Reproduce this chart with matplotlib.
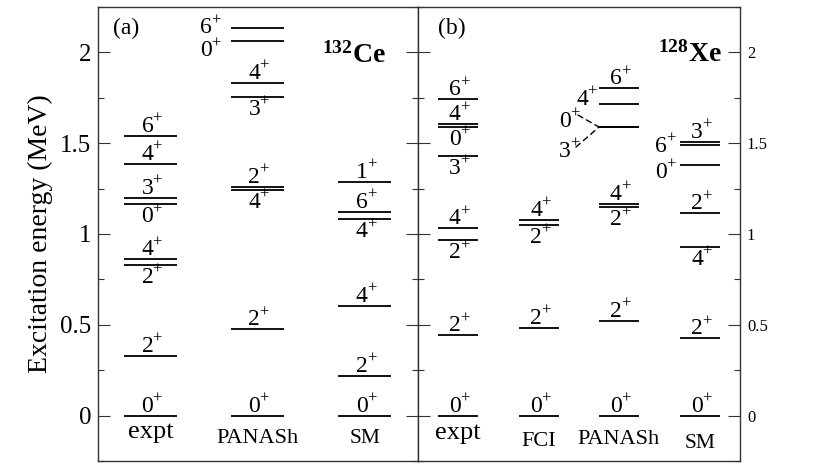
import matplotlib
matplotlib.use("Agg")
import matplotlib.pyplot as plt
from matplotlib.ticker import MultipleLocator, FuncFormatter

plt.rcParams['font.family'] = ['Liberation Serif', 'DejaVu Serif']
plt.rcParams['mathtext.fontset'] = 'custom'
plt.rcParams['mathtext.rm'] = 'Liberation Serif'
plt.rcParams['mathtext.it'] = 'Liberation Serif:italic'
plt.rcParams['mathtext.bf'] = 'Liberation Serif:bold'

# ---------------- data (MeV) ----------------
ce_expt_E = [0.0, 0.328, 0.829, 0.860, 1.163, 1.199, 1.385, 1.541]
ce_expt_J = ['0', '2', '2', '4', '0', '3', '4', '6']
ce_pan_E = [0.0, 0.476, 1.242, 1.260, 1.756, 1.833, 2.061, 2.135]
ce_pan_J = ['0', '2', '4', '2', '3', '4', '0', '6']
ce_sm_E = [0.0, 0.219, 0.603, 1.080, 1.121, 1.286]
ce_sm_J = ['0', '2', '4', '4', '6', '1']

xe_expt_E = [0.0, 0.443, 0.966, 1.031, 1.431, 1.589, 1.604, 1.741]
xe_expt_J = ['0', '2', '2', '4', '3', '0', '4', '6']
xe_fci_E = [0.0, 0.483, 1.049, 1.077]
xe_fci_J = ['0', '2', '2', '4']
xe_pan_E = [0.0, 0.522, 1.146, 1.165, 1.589, 1.589, 1.714, 1.802]
xe_pan_J = ['0', '2', '2', '4', '0', '3', '4', '6']
xe_sm_E = [0.0, 0.425, 0.930, 1.113, 1.381, 1.490, 1.508]
xe_sm_J = ['0', '2', '4', '2', '0', '6', '3']

ce_columns = ['expt', 'PANASh', 'SM']
xe_columns = ['expt', 'FCI', 'PANASh', 'SM']
y_ticks = [0, 0.5, 1, 1.5, 2]

# ---------------- layout (label placement) ----------------
# 'a' above, 'b' below, tuple -> left of line: (digit right dx px, baseline dy px)
ce_expt_P = ['a', 'a', 'b', 'a', 'b', 'a', 'a', 'a']
ce_pan_P = ['a', 'a', 'b', 'a', 'b', 'a', (-19, -15), (-19, -5.5)]
ce_sm_P = ['a', 'a', 'a', 'b', 'a', 'a']
xe_expt_P = ['a', 'a', 'b', 'a', 'b', 'b', 'a', 'a']
xe_fci_P = ['a', 'a', 'b', 'a']
xe_pan_P = ['a', 'a', 'b', 'a', (-28, 0), (-28, -30), (-11, -0.5), 'a']
xe_sm_P = ['a', 'a', 'b', 'a', (-13, -13), (-13, -7), 'a']

ce_centers = [0.164, 0.498, 0.834]
ce_half = 0.083
xe_centers = [0.124, 0.376, 0.624, 0.876]
xe_half = 0.062

DIG = 17
PLUS = 12
fig = plt.figure(figsize=(8.37, 4.68), dpi=100)
ax1 = fig.add_axes([98 / 837, 7 / 468, 320 / 837, 454 / 468])
ax2 = fig.add_axes([418 / 837, 7 / 468, 322 / 837, 454 / 468])


def spin_label(ax, j, xy, off, ha, va):
    t = ax.annotate(j, xy=xy, xytext=off, textcoords='offset pixels',
                    ha=ha, va=va, fontsize=DIG)
    ax.annotate('+', xy=(1, 1), xycoords=t, xytext=(-1, -7),
                textcoords='offset pixels', ha='left', va='baseline', fontsize=PLUS)


def draw_column(ax, xc, half, E, J, P):
    xl, xr = xc - half, xc + half
    for e, j, p in zip(E, J, P):
        ax.plot([xl, xr], [e, e], color='black', lw=1.3, solid_capstyle='butt')
        if p == 'a':
            spin_label(ax, j, (xc, e), (-3, 4), 'center', 'baseline')
        elif p == 'b':
            spin_label(ax, j, (xc, e), (-3, -2), 'center', 'top')
        else:
            spin_label(ax, j, (xl, e), p, 'right', 'baseline')


for xc, E, J, P in zip(ce_centers, [ce_expt_E, ce_pan_E, ce_sm_E],
                       [ce_expt_J, ce_pan_J, ce_sm_J], [ce_expt_P, ce_pan_P, ce_sm_P]):
    draw_column(ax1, xc, ce_half, E, J, P)
for xc, E, J, P in zip(xe_centers, [xe_expt_E, xe_fci_E, xe_pan_E, xe_sm_E],
                       [xe_expt_J, xe_fci_J, xe_pan_J, xe_sm_J],
                       [xe_expt_P, xe_fci_P, xe_pan_P, xe_sm_P]):
    draw_column(ax2, xc, xe_half, E, J, P)

# dashed connectors for degenerate PANASh 0+/3+ in 128Xe
xl = xe_centers[2] - xe_half
for off in [(-21, 12), (-23, -20)]:
    ax2.annotate('', xy=(xl, xe_pan_E[4]), xytext=off, textcoords='offset pixels',
                 arrowprops=dict(arrowstyle='-', linestyle=(0, (4, 3)), lw=1.0,
                                 color='black', shrinkA=0, shrinkB=0))

# column names
ce_name_dy = [-22, -27, -27]
ce_name_fs = [19, 16, 15.5]
for xc, name, dy, fs in zip(ce_centers, ce_columns, ce_name_dy, ce_name_fs):
    ax1.annotate(name, xy=(xc, 0), xytext=(0, dy), textcoords='offset pixels',
                 ha='center', va='baseline', fontsize=fs)
xe_name_dy = [-23, -30, -28, -32]
xe_name_fs = [19, 16, 16, 15.5]
for xc, name, dy, fs in zip(xe_centers, xe_columns, xe_name_dy, xe_name_fs):
    ax2.annotate(name, xy=(xc, 0), xytext=(0, dy), textcoords='offset pixels',
                 ha='center', va='baseline', fontsize=fs)

ax1.text(0.047, 0.975, '(a)', transform=ax1.transAxes, ha='left', va='top', fontsize=17)
ax2.text(0.062, 0.975, '(b)', transform=ax2.transAxes, ha='left', va='top', fontsize=17)
ax1.text(0.90, 0.877, r'$^{\mathbf{132}}\mathbf{Ce}$', transform=ax1.transAxes,
         ha='right', va='baseline', fontsize=20)
ax2.text(0.944, 0.879, r'$^{\mathbf{128}}\mathbf{Xe}$', transform=ax2.transAxes,
         ha='right', va='baseline', fontsize=20)

fmt = FuncFormatter(lambda v, p: '%g' % v)
for ax in (ax1, ax2):
    ax.set_xlim(0, 1)
    ax.set_ylim(-0.25, 2.25)
    ax.set_yticks(y_ticks)
    ax.yaxis.set_minor_locator(MultipleLocator(0.25))
    ax.yaxis.set_major_formatter(fmt)
    ax.set_xticks([])
    for s in ax.spines.values():
        s.set_linewidth(1.0)
        s.set_color('#333333')
    ax.tick_params(which='both', direction='in', left=True, right=True, width=0.8,
                   color='#333333')
    ax.tick_params(which='major', length=8.6)
    ax.tick_params(which='minor', length=4.3)

ax1.tick_params(labelleft=True, labelright=False, labelsize=18, pad=5)
ax2.tick_params(labelleft=False, labelright=True, labelsize=12, pad=5)
ax1.set_ylabel('Excitation energy (MeV)', fontsize=20)
ax1.yaxis.set_label_coords(-0.141, 0.5)

fig.savefig('out.png', dpi=100)
